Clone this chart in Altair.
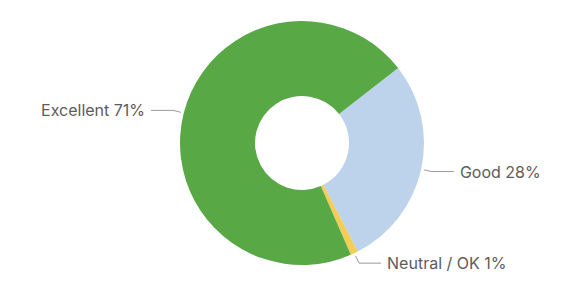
import altair as alt
import pandas as pd
import numpy as np

# Data
categories = ["Good", "Neutral / OK", "Excellent"]
shares = [28, 1, 71]
colors = ["#bdd3ec", "#f3cd55", "#58a846"]

# Layout
W, H = 558, 277
CX, CY = 294, 135
R_OUT, R_IN = 122, 47
START_DEG = 52
START = np.deg2rad(START_DEG)

df = pd.DataFrame({"cat": categories, "share": shares, "order": list(range(len(categories)))})
df["label"] = df["cat"] + " " + df["share"].astype(str) + "%"
total = df["share"].sum()
ends = START + 2 * np.pi * df["share"].cumsum() / total
starts = ends - 2 * np.pi * df["share"] / total
mid = (starts + ends) / 2
side = np.sign(np.sin(mid))

rows = []
for i, c in enumerate(categories):
    m = mid.iloc[i]
    s = side.iloc[i]
    x1, y1 = CX + 125 * np.sin(m), CY - 125 * np.cos(m)
    x2, y2 = CX + 133 * np.sin(m), CY - 133 * np.cos(m)
    x3, y3 = x2 + s * 22, y2
    for k, (xx, yy) in enumerate([(x1, y1), (x2, y2), (x3, y3)]):
        rows.append({"cat": c, "pt": k, "x": xx, "y": yy})
lines = pd.DataFrame(rows)

lab = df.copy()
lab["side"] = side.values
lab["tx"] = [r["x"] for r in rows if r["pt"] == 2]
lab["tx"] = lab["tx"] + lab["side"] * 6
lab["ty"] = [r["y"] + 1 for r in rows if r["pt"] == 2]

xs = alt.Scale(domain=[0, W], range=[0, W])
ys = alt.Scale(domain=[0, H], range=[0, H])

arcs = alt.Chart(df).mark_arc(outerRadius=R_OUT, innerRadius=R_IN).encode(
    theta=alt.Theta("share:Q", stack=True,
                    scale=alt.Scale(range=[START, START + 2 * np.pi])),
    color=alt.Color("cat:N", scale=alt.Scale(domain=categories, range=colors), legend=None),
    order=alt.Order("order:Q"),
    x=alt.value(CX),
    y=alt.value(CY),
)

leaders = alt.Chart(lines).mark_line(color="#9a9a9a", strokeWidth=1).encode(
    x=alt.X("x:Q", scale=xs, axis=None),
    y=alt.Y("y:Q", scale=ys, axis=None),
    detail="cat:N",
    order="pt:Q",
)

text_style = dict(baseline="middle", font="Inter", fontSize=16, color="#5c5c5c")
left_text = alt.Chart(lab).transform_filter("datum.side < 0").mark_text(align="right", **text_style).encode(
    x=alt.X("tx:Q", scale=xs, axis=None),
    y=alt.Y("ty:Q", scale=ys, axis=None),
    text="label:N",
)
right_text = alt.Chart(lab).transform_filter("datum.side > 0").mark_text(align="left", **text_style).encode(
    x=alt.X("tx:Q", scale=xs, axis=None),
    y=alt.Y("ty:Q", scale=ys, axis=None),
    text="label:N",
)

chart = alt.layer(arcs, leaders, left_text, right_text).properties(
    width=W, height=H, padding=0, background="#ffffff"
).configure_view(stroke=None)

chart.save("out.html", embed_options={"renderer": "svg", "actions": False})
